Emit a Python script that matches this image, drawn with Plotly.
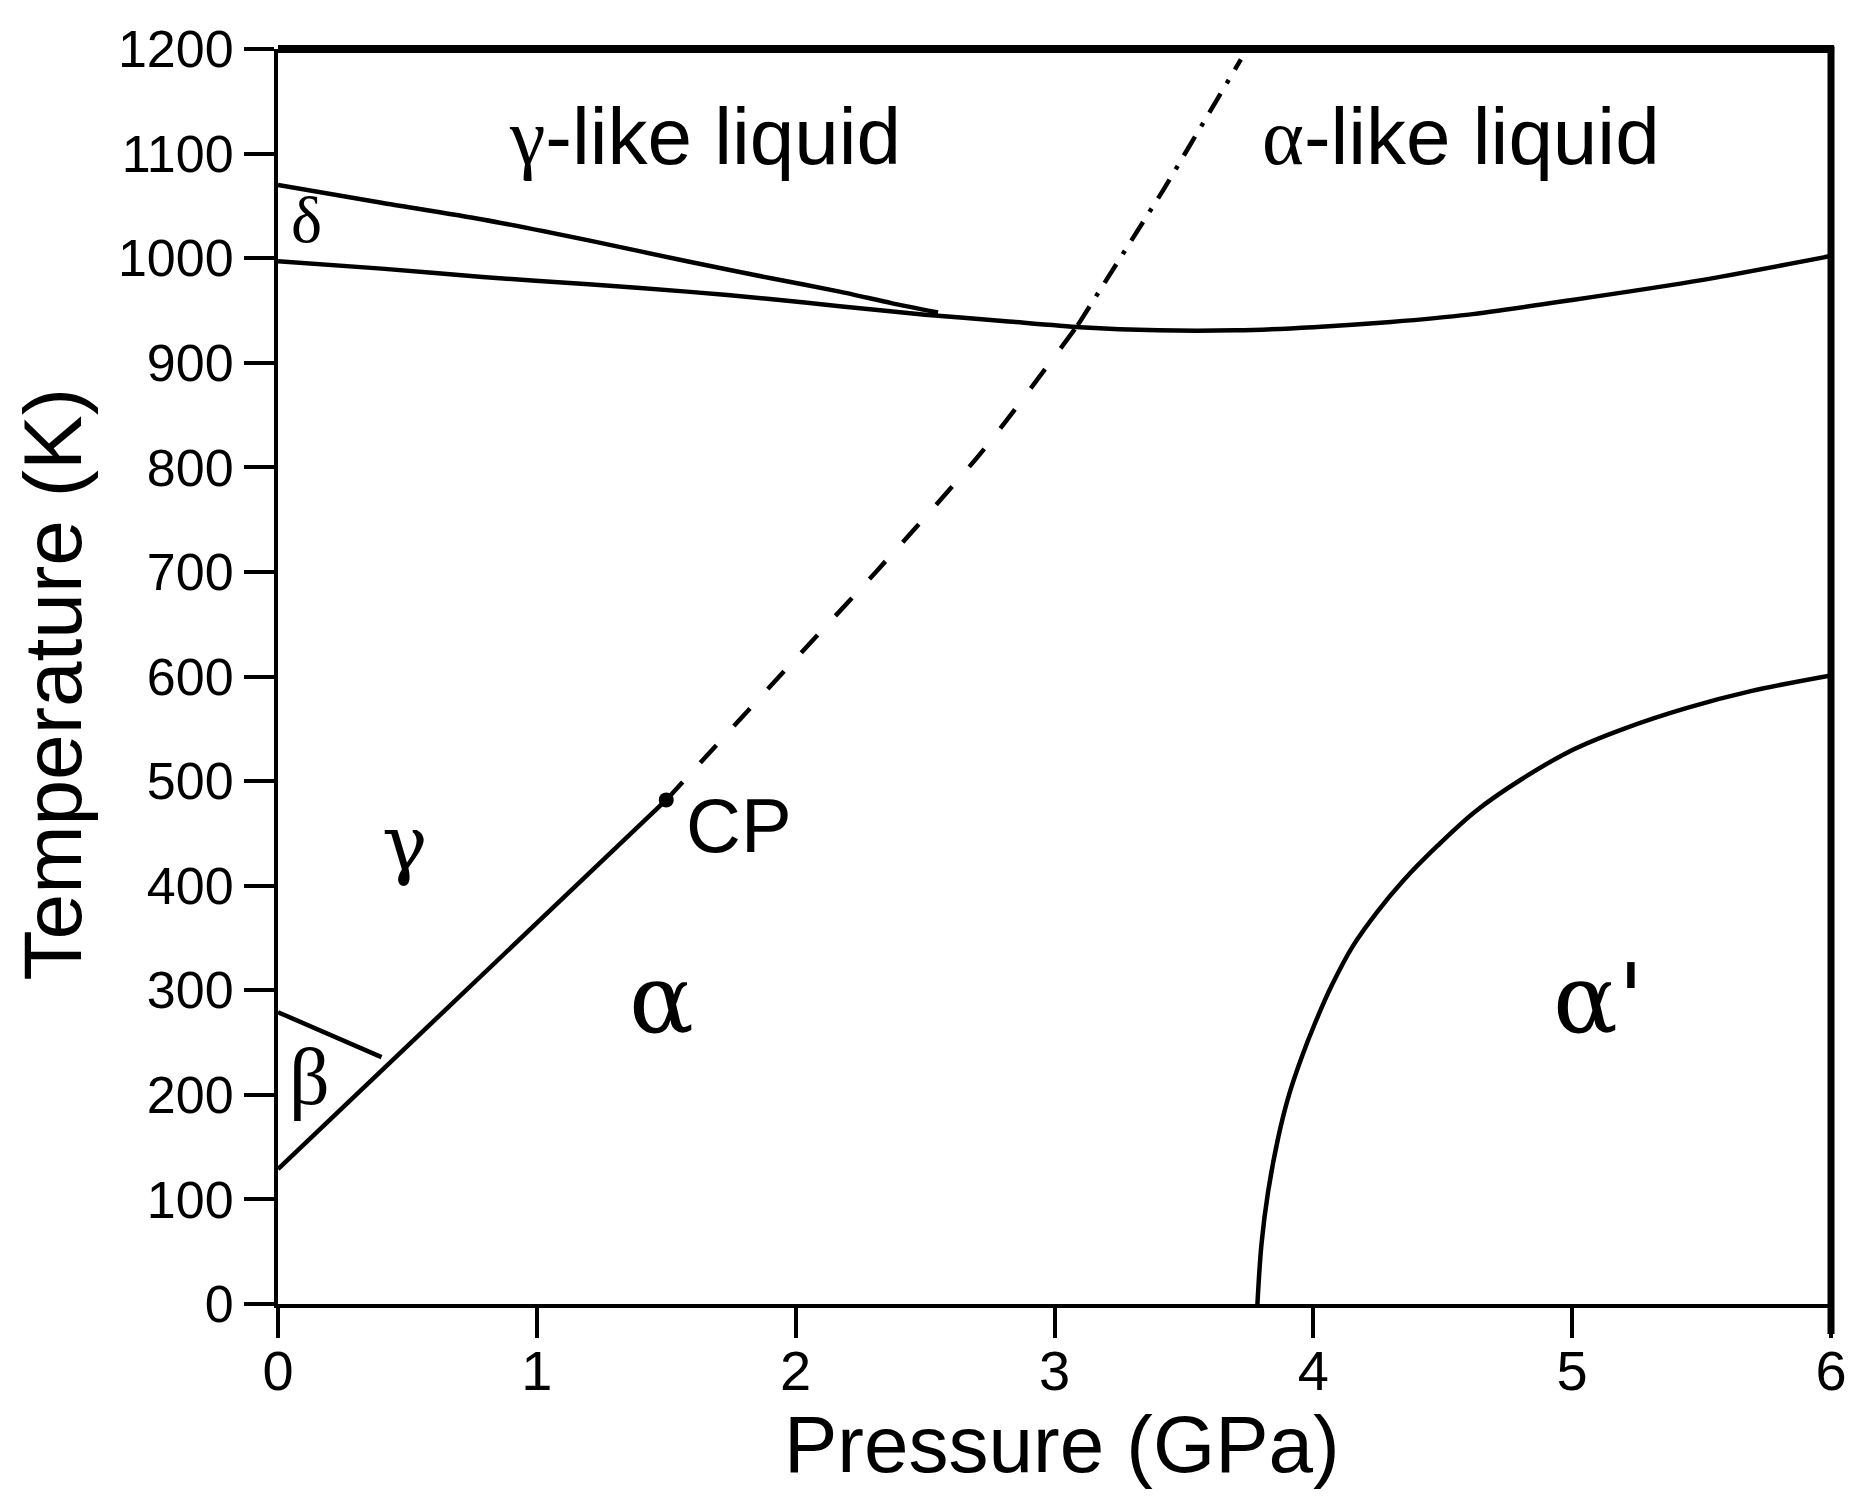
import plotly.graph_objects as go

# ---- data (P in GPa, T in K) ----
melt_upper_P = [0.0, 0.4, 0.79, 1.2, 1.58, 1.9, 2.17, 2.37, 2.55]
melt_upper_T = [1070, 1053, 1037, 1017, 997, 981, 968, 957, 948]

melt_lower_P = [0.0, 0.4, 0.79, 1.2, 1.58, 1.9, 2.17, 2.5, 2.8, 3.1, 3.4, 3.7, 4.0, 4.3, 4.6, 5.0, 5.5, 6.0]
melt_lower_T = [997, 990, 982, 975, 968, 961, 954, 946, 940, 934, 931, 931, 934, 939, 946, 960, 979, 1002]

beta_gamma_P = [0.0, 0.40]
beta_gamma_T = [279, 236]

alpha_gamma_P = [0.0, 1.5]
alpha_gamma_T = [129, 482]

crossover_dash_P = [1.5, 2.0, 2.31, 2.72, 3.09]
crossover_dash_T = [482, 617, 700, 815, 936]

crossover_dashdot_P = [3.09, 3.42, 3.72]
crossover_dashdot_T = [936, 1065, 1190]

alpha_prime_P = [3.784, 3.80, 3.825, 3.865, 3.906, 3.955, 4.004, 4.07, 4.152, 4.25, 4.348,
                 4.479, 4.626, 4.806, 5.003, 5.199, 5.444, 5.69, 6.0]
alpha_prime_T = [0, 58, 107, 160, 200, 236, 267, 304, 342, 376, 405,
                 438, 471, 502, 530, 550, 570, 586, 601]

cp_P = [1.5]
cp_T = [482]

x_ticks = [0, 1, 2, 3, 4, 5, 6]
y_ticks = list(range(0, 1201, 100))

SANS = "Liberation Sans, Arial, sans-serif"
SERIF = "Liberation Serif, Times New Roman, serif"
DSERIF = "DejaVu Serif, serif"

fig = go.Figure()

def line(P, T, dash="solid", shape="linear", smoothing=0.7):
    fig.add_trace(go.Scatter(x=P, y=T, mode="lines",
                             line=dict(color="black", width=4.5, dash=dash, shape=shape,
                                       smoothing=smoothing),
                             showlegend=False, hoverinfo="skip"))

line(melt_upper_P, melt_upper_T, shape="spline")
line(melt_lower_P, melt_lower_T, shape="spline")
line(beta_gamma_P, beta_gamma_T)
line(alpha_gamma_P, alpha_gamma_T)
line(crossover_dash_P, crossover_dash_T, dash="24px,26px", shape="spline")
line(crossover_dashdot_P, crossover_dashdot_T, dash="22px,12px,4px,12px")
line(alpha_prime_P, alpha_prime_T, shape="spline", smoothing=1.0)

fig.add_trace(go.Scatter(x=cp_P, y=cp_T, mode="markers",
                         marker=dict(color="black", size=15),
                         showlegend=False, hoverinfo="skip"))

# ---- region labels ----
labels = [
    ("<span style='font-family:Liberation Serif'>γ</span>-like liquid", 1.65, 1116, SANS, 80),
    ("<span style='font-family:Liberation Serif'>α</span>-like liquid", 4.57, 1116, SANS, 80),
    ("δ", 0.11, 1037, SERIF, 66),
    ("γ", 0.49, 440, DSERIF, 76),
    ("CP", 1.78, 458, SANS, 76),
    ("α", 1.48, 292, DSERIF, 96),
    ("β", 0.12, 217, SERIF, 80),
    ("α'", 5.10, 292, DSERIF, 96),
]
for text, x, y, fam, size in labels:
    fig.add_annotation(x=x, y=y, text=text, showarrow=False,
                       font=dict(family=fam, size=size, color="black"),
                       xanchor="center", yanchor="middle")

# axis titles
fig.add_annotation(xref="paper", yref="paper", x=0.5048, y=-0.1118, text="Pressure (GPa)",
                   showarrow=False, font=dict(family=SANS, size=80, color="black"),
                   xanchor="center", yanchor="middle")
fig.add_annotation(xref="paper", yref="paper", x=-0.1455, y=0.4937, text="Temperature (K)",
                   showarrow=False, textangle=-90,
                   font=dict(family=SANS, size=82, color="black"),
                   xanchor="center", yanchor="middle")

# thick top and right frame lines
fig.add_shape(type="line", xref="paper", yref="paper", x0=0, x1=1.002, y0=1, y1=1,
              line=dict(color="black", width=8))
fig.add_shape(type="line", xref="paper", yref="paper", x0=1, x1=1, y0=-0.024, y1=1.002,
              line=dict(color="black", width=7))

fig.update_layout(
    width=1856, height=1495,
    margin=dict(l=270, r=33, t=35, b=199),
    paper_bgcolor="white", plot_bgcolor="white",
    font=dict(family=SANS, color="black"),
    xaxis=dict(range=[0, 6], tickvals=x_ticks, ticks="outside", ticklen=30, tickwidth=4,
               tickcolor="black", showline=True, linecolor="black", linewidth=4,
               showgrid=False, zeroline=False, tickfont=dict(size=56, family=SANS),
               ticklabelstandoff=-15),
    yaxis=dict(range=[0, 1200], tickvals=y_ticks, ticks="outside", ticklen=30, tickwidth=4,
               tickcolor="black", showline=True, linecolor="black", linewidth=4,
               showgrid=False, zeroline=False, tickfont=dict(size=52, family=SANS)),
)

fig.write_html("out.html")
